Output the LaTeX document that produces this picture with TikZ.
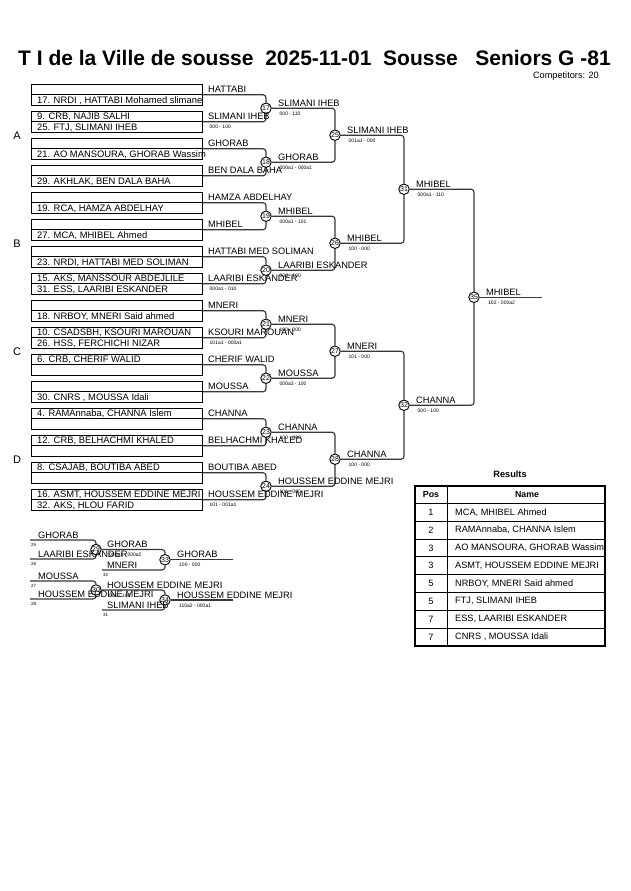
\documentclass[tikz,border=0pt]{standalone}
\usepackage{fontspec}
\setmainfont{Liberation Sans}
\usetikzlibrary{calc}
\newcommand\mkpair[7]{%
  \node[pairbox] (p#1) at (117.25,#2) {};
  \draw[boxline] (p#1.west) -- (p#1.east);
  \node[entrytxt] (pt#1) at (37,#2-2.3) {#3};
  \node[entrytxt] (pb#1) at (37,#2+8.45) {#4};
  \draw[conn] (p#1.east) -| (#5);
  \node[wintxt] (pw#1) at (208,#2-2) {#6};
  \node[scoretxt] (ps#1) at (209.5,#2+5.5) {#7};
}
\newcommand\mkadv[6]{%
  \draw[conn] (#1) -| (#2);
  \node[wintxt] at (#3,#4-2) {#5};
  \node[scoretxt] at (#3+1.5,#4+5.5) {#6};
}
\begin{document}
\begin{tikzpicture}[x=1pt,y=-1pt,
  pairbox/.style={draw=black,line width=0.8pt,minimum width=171pt,minimum height=21.5pt,inner sep=0pt},
  boxline/.style={draw=black,line width=0.8pt},
  entrytxt/.style={anchor=base west,inner sep=0pt,font=\fontsize{9.4}{10}\selectfont},
  wintxt/.style={anchor=base west,inner sep=0pt,font=\fontsize{9.3}{10}\selectfont},
  scoretxt/.style={anchor=west,inner sep=0pt,font=\fontsize{5}{5}\selectfont},
  srctxt/.style={anchor=west,inner sep=0pt,font=\fontsize{4.5}{5}\selectfont},
  mnode/.style={circle,draw=black,fill=white,line width=0.9pt,minimum size=10.5pt,inner sep=0pt,font=\fontsize{7}{7}\selectfont},
  conn/.style={draw=black!78,line width=1.15pt,rounded corners=3pt},
  pooltxt/.style={inner sep=0pt,font=\fontsize{11}{11}\selectfont},
  tabtxt/.style={inner sep=0pt,font=\fontsize{9.2}{10}\selectfont},
  tabhead/.style={inner sep=0pt,font=\bfseries\fontsize{8.8}{10}\selectfont},
]
\useasboundingbox[fill=white] (0,0) rectangle (630,891);

% title
\node[inner sep=0pt,font=\bfseries\fontsize{21}{22}\selectfont] (title) at (314.5,58)
  {T I de la Ville de sousse\ \ 2025-11-01\ \ Sousse\ \ \ Seniors G -81};
\node[anchor=east,inner sep=0pt,font=\fontsize{9.2}{10}\selectfont] (comp) at (599,76) {Competitors: 20};

% pools
\node[pooltxt] (poolA) at (17,135.25) {A};
\node[pooltxt] (poolB) at (17,243.25) {B};
\node[pooltxt] (poolC) at (17,351.25) {C};
\node[pooltxt] (poolD) at (17,459.25) {D};

% match nodes
\node[mnode] (n17) at (266,108.25) {17};
\node[mnode] (n18) at (266,162.25) {18};
\node[mnode] (n19) at (266,216.25) {19};
\node[mnode] (n20) at (266,270.25) {20};
\node[mnode] (n21) at (266,324.25) {21};
\node[mnode] (n22) at (266,378.25) {22};
\node[mnode] (n23) at (266,432.25) {23};
\node[mnode] (n24) at (266,486.25) {24};
\node[mnode] (n25) at (335,135.25) {25};
\node[mnode] (n26) at (335,243.25) {26};
\node[mnode] (n27) at (335,351.25) {27};
\node[mnode] (n28) at (335,459.25) {28};
\node[mnode] (n31) at (404,189.25) {31};
\node[mnode] (n32) at (404,405.25) {32};
\node[mnode] (n35) at (474,297.25) {35};

% first round
\mkpair{1}{94.75}{}{17. NRDI , HATTABI Mohamed slimane}{n17}{HATTABI}{}
\mkpair{2}{121.75}{9. CRB, NAJIB SALHI}{25. FTJ, SLIMANI IHEB}{n17}{SLIMANI IHEB}{000 - 100}
\mkpair{3}{148.75}{}{21. AO MANSOURA, GHORAB Wassim}{n18}{GHORAB}{}
\mkpair{4}{175.75}{}{29. AKHLAK, BEN DALA BAHA}{n18}{BEN DALA BAHA}{}
\mkpair{5}{202.75}{}{19. RCA, HAMZA ABDELHAY}{n19}{HAMZA ABDELHAY}{}
\mkpair{6}{229.75}{}{27. MCA, MHIBEL Ahmed}{n19}{MHIBEL}{}
\mkpair{7}{256.75}{}{23. NRDI, HATTABI MED SOLIMAN}{n20}{HATTABI MED SOLIMAN}{}
\mkpair{8}{283.75}{15. AKS, MANSSOUR ABDEJLILE}{31. ESS, LAARIBI ESKANDER}{n20}{LAARIBI ESKANDER}{000a1 - 010}
\mkpair{9}{310.75}{}{18. NRBOY, MNERI Said ahmed}{n21}{MNERI}{}
\mkpair{10}{337.75}{10. CSADSBH, KSOURI MAROUAN}{26. HSS, FERCHICHI NIZAR}{n21}{KSOURI MAROUAN}{101a1 - 000a1}
\mkpair{11}{364.75}{6. CRB, CHERIF WALID}{}{n22}{CHERIF WALID}{}
\mkpair{12}{391.75}{}{30. CNRS , MOUSSA Idali}{n22}{MOUSSA}{}
\mkpair{13}{418.75}{4. RAMAnnaba, CHANNA Islem}{}{n23}{CHANNA}{}
\mkpair{14}{445.75}{12. CRB, BELHACHMI KHALED}{}{n23}{BELHACHMI KHALED}{}
\mkpair{15}{472.75}{8. CSAJAB, BOUTIBA ABED}{}{n24}{BOUTIBA ABED}{}
\mkpair{16}{499.75}{16. ASMT, HOUSSEM EDDINE MEJRI}{32. AKS, HLOU FARID}{n24}{HOUSSEM EDDINE MEJRI}{101 - 001a1}

% round of 16 -> quarter finals
\mkadv{n17}{n25}{278}{108.25}{SLIMANI IHEB}{000 - 110}
\mkadv{n18}{n25}{278}{162.25}{GHORAB}{000a1 - 000a1}
\mkadv{n19}{n26}{278}{216.25}{MHIBEL}{000a1 - 101}
\mkadv{n20}{n26}{278}{270.25}{LAARIBI ESKANDER}{000 - 100}
\mkadv{n21}{n27}{278}{324.25}{MNERI}{100 - 000}
\mkadv{n22}{n27}{278}{378.25}{MOUSSA}{000a3 - 100}
\mkadv{n23}{n28}{278}{432.25}{CHANNA}{100 - 000}
\mkadv{n24}{n28}{278}{486.25}{HOUSSEM EDDINE MEJRI}{101 - 000}

% quarter finals -> semi finals
\mkadv{n25}{n31}{347}{135.25}{SLIMANI IHEB}{001a1 - 000}
\mkadv{n26}{n31}{347}{243.25}{MHIBEL}{100 - 000}
\mkadv{n27}{n32}{347}{351.25}{MNERI}{101 - 000}
\mkadv{n28}{n32}{347}{459.25}{CHANNA}{100 - 000}

% semi finals -> final
\mkadv{n31}{n35}{416}{189.25}{MHIBEL}{000a1 - 110}
\mkadv{n32}{n35}{416}{405.25}{CHANNA}{000 - 100}

% final
\coordinate (fend) at (542,297.25);
\draw[conn] (n35) -- (fend);
\node[wintxt] (fw) at (486,295.25) {MHIBEL};
\node[scoretxt] (fs) at (488,302.75) {102 - 000a2};

% repechage block 1
\node[mnode] (n29) at (96,549.5) {29};
\node[mnode] (n33) at (165,559.75) {33};
\coordinate (ra1) at (30,540);
\coordinate (ra2) at (30,559);
\coordinate (rb1) at (102,570);
\coordinate (rc1) at (233,559.75);
\draw[conn] (ra1) -| (n29);
\draw[conn] (ra2) -| (n29);
\draw[conn] (n29) -| (n33);
\draw[conn] (rb1) -| (n33);
\draw[conn] (n33) -- (rc1);
\node[wintxt] at (38,538) {GHORAB};
\node[srctxt] at (31,544.5) {25};
\node[wintxt] at (38,557) {LAARIBI ESKANDER};
\node[srctxt] at (31,563.5) {26};
\node[wintxt] at (107,547.5) {GHORAB};
\node[scoretxt] at (109,555) {000a1 - 000a2};
\node[wintxt] at (107,568) {MNERI};
\node[srctxt] at (103,574.5) {32};
\node[wintxt] at (177,557.75) {GHORAB};
\node[scoretxt] at (179,565.25) {100 - 000};

% repechage block 2
\node[mnode] (n30) at (96,590) {30};
\node[mnode] (n34) at (165,600) {34};
\coordinate (ra3) at (30,581);
\coordinate (ra4) at (30,599);
\coordinate (rb2) at (102,610);
\coordinate (rc2) at (233,600);
\draw[conn] (ra3) -| (n30);
\draw[conn] (ra4) -| (n30);
\draw[conn] (n30) -| (n34);
\draw[conn] (rb2) -| (n34);
\draw[conn] (n34) -- (rc2);
\node[wintxt] at (38,579) {MOUSSA};
\node[srctxt] at (31,585.5) {27};
\node[wintxt] at (38,597) {HOUSSEM EDDINE MEJRI};
\node[srctxt] at (31,603.5) {28};
\node[wintxt] at (107,588) {HOUSSEM EDDINE MEJRI};
\node[scoretxt] at (109,595.5) {000 - 100};
\node[wintxt] at (107,608) {SLIMANI IHEB};
\node[srctxt] at (103,614.5) {31};
\node[wintxt] at (177,598) {HOUSSEM EDDINE MEJRI};
\node[scoretxt] at (179,605.5) {110a2 - 000a1};

% results table
\node[inner sep=0pt,font=\bfseries\fontsize{9.2}{10}\selectfont] (restitle) at (510,474) {Results};
\foreach \i in {1,...,7} {
  \draw[line width=0.8pt] (415,503.4+17.8*\i) -- (605,503.4+17.8*\i);
}
\draw[line width=0.8pt] (415,503.4) -- (605,503.4);
\draw[line width=0.8pt] (447,486) -- (447,645.8);
\node[tabhead] (hpos) at (431,495) {Pos};
\node[tabhead] (hname) at (527,495) {Name};
\begin{scope}
\clip (415,486) rectangle (605,645.8);
\foreach \p/\nm [count=\i] in {1/{MCA, MHIBEL Ahmed},2/{RAMAnnaba, CHANNA Islem},3/{AO MANSOURA, GHORAB Wassim},3/{ASMT, HOUSSEM EDDINE MEJRI},5/{NRBOY, MNERI Said ahmed},5/{FTJ, SLIMANI IHEB},7/{ESS, LAARIBI ESKANDER},7/{CNRS , MOUSSA Idali}} {
  \node[tabtxt] (rp\i) at (431,503.4+17.8*\i-8.9) {\p};
  \node[tabtxt,anchor=west] (rn\i) at (455,503.4+17.8*\i-8.9) {\nm};
}
\end{scope}
\draw[line width=1.8pt] (415,486) rectangle (605,645.8);
\end{tikzpicture}
\end{document}
